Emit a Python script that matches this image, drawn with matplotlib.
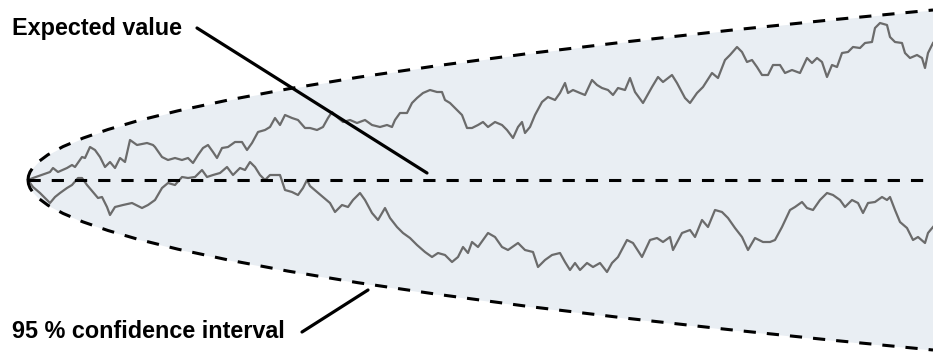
import matplotlib.pyplot as plt

# time steps and values of the two sample paths
path_a_t = [0, 5, 22, 25, 30, 39, 44, 47, 54, 57, 62, 67, 72, 77, 82, 87, 92, 97, 102, 109,
            119, 125, 127, 134, 140, 147, 154, 160, 165, 170, 175, 180, 185, 189, 194, 200, 207, 214, 219, 224,
            230, 237, 242, 247, 252, 257, 264, 270, 277, 282, 289, 295, 300, 304, 309, 315, 322, 329, 337, 344,
            352, 359, 364, 367, 372, 379, 384, 389, 395, 402, 409, 414, 417, 422, 429, 434, 439, 444, 450, 455,
            460, 467, 474, 479, 485, 490, 494, 497, 502, 507, 514, 520, 527, 532, 537, 540, 545, 552, 557, 564,
            569, 574, 580, 585, 590, 597, 602, 607, 615, 624, 630, 635, 644, 649, 657, 662, 669, 675, 684, 690,
            697, 702, 709, 714, 719, 724, 729, 734, 740, 745, 752, 757, 764, 772, 779, 784, 789, 794, 799, 804,
            809, 814, 820, 825, 832, 837, 844, 847, 852, 859, 862, 867, 874, 877, 882, 889, 894, 897, 900, 905]
path_a_v = [0, 2, 8, 12, 8, 12, 15, 13, 23, 22, 33, 30, 23, 13, 18, 12, 22, 18, 40, 35,
            37, 35, 33, 23, 20, 22, 20, 22, 17, 25, 32, 35, 28, 22, 32, 33, 38, 38, 30, 37,
            48, 50, 53, 62, 55, 65, 62, 60, 52, 52, 50, 53, 62, 68, 63, 58, 60, 57, 60, 55,
            53, 55, 53, 60, 67, 67, 77, 82, 87, 90, 88, 88, 80, 77, 70, 65, 52, 52, 55, 58,
            53, 58, 55, 50, 42, 53, 58, 47, 53, 65, 78, 83, 80, 87, 97, 87, 90, 87, 85, 100,
            95, 92, 90, 85, 92, 90, 102, 88, 77, 93, 103, 98, 105, 97, 82, 77, 87, 93, 107, 102,
            120, 125, 133, 128, 118, 120, 113, 105, 105, 115, 115, 107, 110, 107, 122, 117, 122, 118, 103, 115,
            113, 127, 128, 133, 132, 137, 138, 152, 157, 155, 143, 138, 137, 127, 122, 125, 122, 112, 127, 137]

path_b_t = [0, 5, 12, 19, 22, 27, 32, 39, 44, 50, 54, 59, 65, 70, 74, 79, 82, 87, 95, 104,
            114, 120, 127, 134, 140, 147, 154, 160, 167, 174, 179, 185, 192, 199, 205, 212, 217, 222, 227, 232,
            237, 242, 247, 252, 257, 264, 270, 275, 279,
            282, 289, 295, 302, 307, 314, 320, 325, 332, 337, 344, 350, 357, 362, 369, 375, 382, 389, 397, 404,
            410, 417, 424, 430, 435, 440, 444, 450, 455, 460, 467, 474, 480, 490, 497, 505, 510, 517, 524, 532,
            537, 542, 547, 552, 559, 565, 572, 579, 584, 590, 599, 605, 614, 622, 629, 635, 642, 645, 654, 662,
            667, 674, 680, 687, 694, 700, 707, 714, 720, 727, 735, 742, 747, 754, 762, 767, 774, 779, 785, 792,
            799, 805, 812, 817, 824, 830, 835, 840, 847, 854, 859, 862, 867, 872, 879, 885, 890, 897, 900, 905]
path_b_v = [0, -7, -13, -20, -23, -17, -13, -8, -5, 2, 2, -5, -12, -18, -17, -27, -35, -27, -25, -23,
            -28, -25, -20, -8, -3, -5, 3, 2, 3, 10, 3, 5, 7, 13, 5, 12, 10, 18, 13, 5,
            0, 5, 5, 5, -10, -12, -15, -8, 0,
            -6, -12, -17, -23, -32, -25, -27, -20, -13, -20, -33, -40, -28, -38, -47, -53, -58, -65, -72, -77,
            -73, -75, -82, -77, -67, -73, -62, -67, -60, -53, -57, -67, -70, -63, -70, -72, -87, -80, -75, -73,
            -82, -90, -83, -90, -83, -87, -83, -92, -83, -77, -60, -63, -77, -60, -58, -62, -57, -70, -53, -50,
            -57, -40, -47, -30, -32, -38, -48, -57, -70, -58, -62, -62, -60, -47, -30, -27, -22, -28, -30, -20,
            -13, -15, -20, -27, -20, -23, -33, -23, -22, -17, -20, -17, -30, -42, -48, -60, -57, -63, -53, -47]

# half width of the 95 % band
band_t = [0, 0.5, 2, 5, 10, 20, 35, 55, 80, 110, 150, 200, 260, 330, 410, 500, 600, 700, 800, 905]
band_hw = [0, 4.0, 8.0, 12.6, 17.9, 25.3, 33.4, 41.9, 50.5, 59.3, 69.2, 79.9, 91.1, 102.7, 114.4,
           126.4, 138.4, 149.5, 159.8, 170]

plt.rcParams['font.family'] = ['Liberation Sans', 'DejaVu Sans']

fig = plt.figure(figsize=(9.33, 3.54), dpi=100)
ax = fig.add_axes([0, 0, 1, 1])

lower = [-h for h in band_hw]
ax.fill_between(band_t, lower, band_hw, color='#e9eef3', lw=0, zorder=1)

ax.plot(path_a_t, path_a_v, color='#6b6b6b', lw=1.6, zorder=2)
ax.plot(path_b_t, path_b_v, color='#6b6b6b', lw=1.6, zorder=2)

dash = dict(color='black', lw=2.2, ls=(0, (4, 3.6)), zorder=3)
ax.plot(band_t, band_hw, **dash)
ax.plot(band_t, lower, **dash)
ax.plot([band_t[0], band_t[-1]], [0, 0], **dash)

ax.text(-16, 151, 'Expected value', fontsize=16.8, fontweight='bold', va='center', ha='left')
ax.annotate('', xy=(399, 7), xytext=(169, 152),
            arrowprops=dict(arrowstyle='-', lw=2.3, color='black', shrinkA=0, shrinkB=0), zorder=4)

ax.text(-16, -152, '95 % confidence interval', fontsize=16.8, fontweight='bold', va='center', ha='left')
ax.annotate('', xy=(340, -110), xytext=(274, -152),
            arrowprops=dict(arrowstyle='-', lw=2.3, color='black', shrinkA=0, shrinkB=0), zorder=4)

ax.set_xlim(-28, 905)
ax.set_ylim(-174, 180)
ax.axis('off')

fig.savefig('out.png', dpi=100)
